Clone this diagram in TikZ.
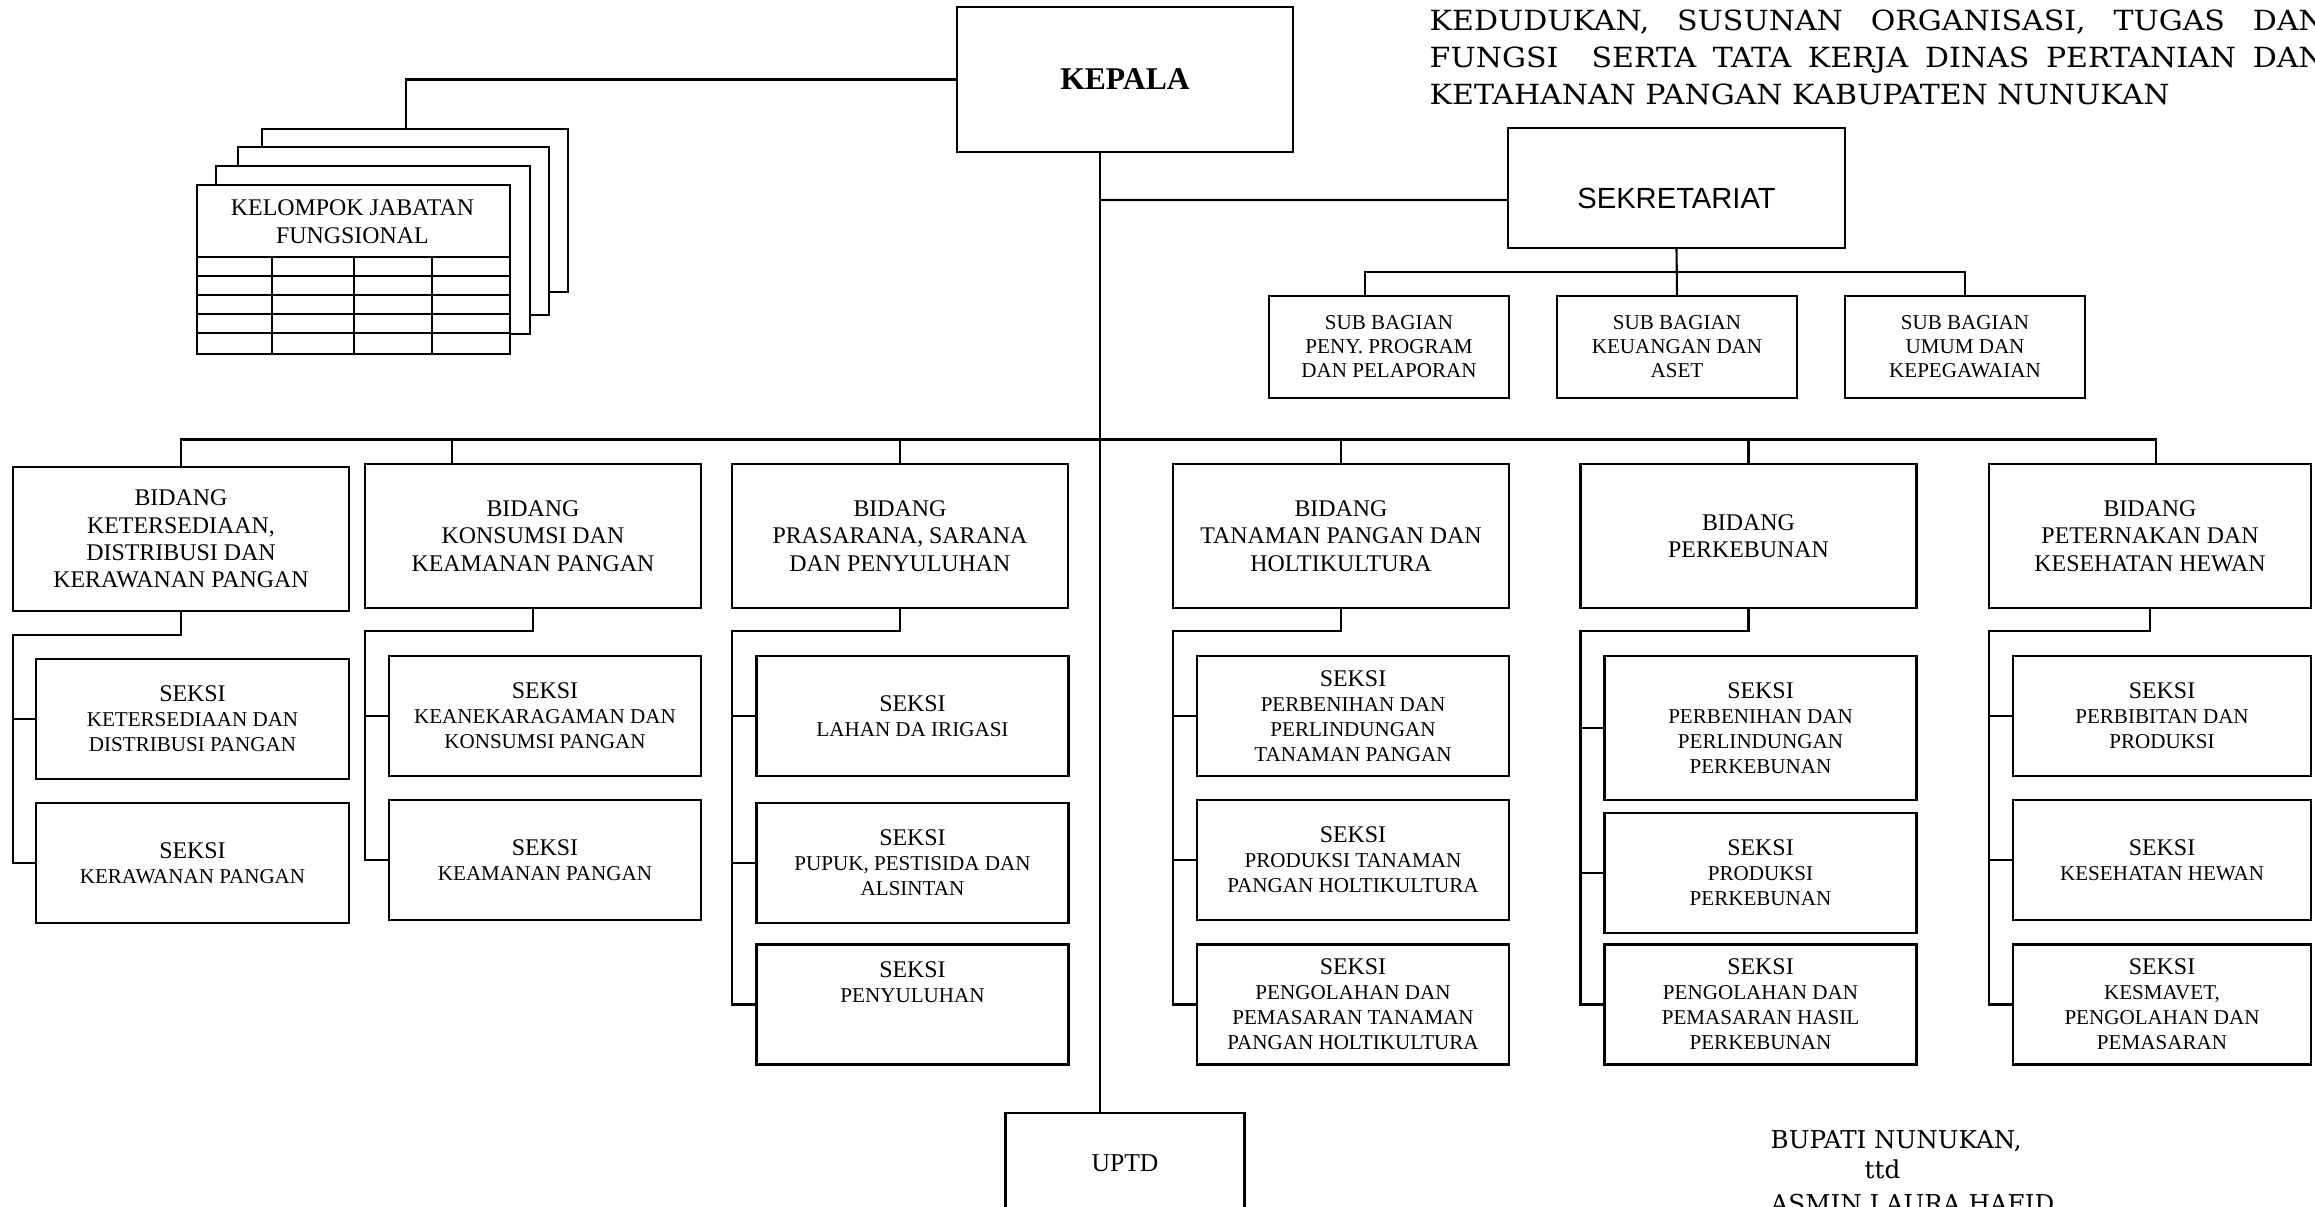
\documentclass[tikz,border=0pt]{standalone}
\usepackage{fontspec}
\setmainfont{Liberation Serif}
\newfontfamily\arialfont{Liberation Sans}
\newfontfamily\titlefont{DejaVu Serif}
\newfontfamily\widetitlefont[FakeStretch=1.08]{DejaVu Serif}
\newcommand{\dtl}{\fontsize{6}{7.1}\selectfont}

\begin{document}
\begin{tikzpicture}[
    orgbox/.style={draw, line width=0.6pt, fill=white, align=center, inner sep=1pt},
    bidang/.style={orgbox, minimum width=3.36cm, minimum height=1.44cm, font=\fontsize{6.8}{7.8}\selectfont},
    seksi/.style={orgbox, minimum width=3.12cm, minimum height=1.20cm, font=\fontsize{6.8}{7.1}\selectfont},
    subbag/.style={orgbox, minimum width=2.40cm, minimum height=1.02cm, font=\fontsize{6}{6.8}\selectfont},
    sheetbox/.style={orgbox, anchor=north west, minimum width=3.13cm, minimum height=1.69cm},
    conn/.style={line width=0.6pt},
    signtext/.style={anchor=base west, inner sep=0pt, font=\titlefont\fontsize{7}{8.5}\selectfont}
]
    \useasboundingbox (0, 0) rectangle (23.15, -12.07);
    \clip (0, 0) rectangle (23.15, -12.07);

    % title
    \node[anchor=north west, inner sep=0pt, align=left, font=\widetitlefont\fontsize{7.9}{10.5}\selectfont] at (14.29, -0.09) (judul) {\makebox[8.95cm][s]{KEDUDUKAN, SUSUNAN ORGANISASI, TUGAS DAN}\\ \makebox[8.95cm][s]{FUNGSI\ \ SERTA TATA KERJA DINAS PERTANIAN DAN}\\ KETAHANAN PANGAN KABUPATEN NUNUKAN};

    \node[orgbox, minimum width=3.36cm, minimum height=1.45cm, font=\fontsize{9}{10}\selectfont\bfseries] at (11.25, -0.795) (kepala) {KEPALA};
    \node[orgbox, minimum width=3.37cm, minimum height=1.20cm, text height=0.42cm, text depth=0pt, font=\arialfont\fontsize{8.3}{9}\selectfont] at (16.765, -1.88) (sek) {SEKRETARIAT};

    \node[subbag] at (13.89, -3.47) (SB1) {SUB BAGIAN\\PENY. PROGRAM\\DAN PELAPORAN};
    \node[subbag] at (16.77, -3.47) (SB2) {SUB BAGIAN\\KEUANGAN DAN\\ASET};
    \node[subbag] at (19.65, -3.47) (SB3) {SUB BAGIAN\\UMUM DAN\\KEPEGAWAIAN};

    % kelompok jabatan fungsional (stacked sheets)
    \node[sheetbox, minimum width=3.06cm, minimum height=1.63cm] at (2.61, -1.28) (kjf4) {};
    \node[sheetbox, minimum width=3.11cm, minimum height=1.68cm] at (2.37, -1.46) (kjf3) {};
    \node[sheetbox, minimum width=3.14cm, minimum height=1.68cm] at (2.15, -1.65) (kjf2) {};
    \node[sheetbox] at (1.96, -1.84) (kjf) {};
    \node[font=\fontsize{6.8}{7.9}\selectfont, align=center] at (3.525, -2.22) (kjflabel) {KELOMPOK JABATAN\\FUNGSIONAL};
    \foreach \y in {-2.57, -2.76, -2.95, -3.14, -3.33}
        \draw[conn] (1.96, \y) -- (5.09, \y);
    \foreach \x in {2.72, 3.54, 4.32}
        \draw[conn] (\x, -2.57) -- (\x, -3.53);

    \node[bidang] at (1.81, -5.39) (B1) {BIDANG\\KETERSEDIAAN,\\DISTRIBUSI DAN\\KERAWANAN PANGAN};
    \node[bidang] at (5.33, -5.36) (B2) {BIDANG\\KONSUMSI DAN\\KEAMANAN PANGAN};
    \node[bidang] at (9.00, -5.36) (B3) {BIDANG\\PRASARANA, SARANA\\DAN PENYULUHAN};
    \node[bidang] at (13.41, -5.36) (B4) {BIDANG\\TANAMAN PANGAN DAN\\HOLTIKULTURA};
    \node[bidang] at (17.485, -5.36) (B5) {BIDANG\\PERKEBUNAN};
    \node[bidang, minimum width=3.22cm] at (21.50, -5.36) (B6) {BIDANG\\PETERNAKAN DAN\\KESEHATAN HEWAN};

    \node[seksi, minimum width=3.13cm] at (1.925, -7.19) (B1S1) {SEKSI\\\dtl KETERSEDIAAN DAN\\\dtl DISTRIBUSI PANGAN};
    \node[seksi, minimum width=3.13cm] at (1.925, -8.63) (B1S2) {SEKSI\\\dtl KERAWANAN PANGAN};
    \node[seksi] at (5.45, -7.16) (B2S1) {SEKSI\\\dtl KEANEKARAGAMAN DAN\\\dtl KONSUMSI PANGAN};
    \node[seksi] at (5.45, -8.60) (B2S2) {SEKSI\\\dtl KEAMANAN PANGAN};
    \node[seksi] at (9.125, -7.16) (B3S1) {SEKSI\\\dtl LAHAN DA IRIGASI};
    \node[seksi] at (9.125, -8.63) (B3S2) {SEKSI\\\dtl PUPUK, PESTISIDA DAN\\\dtl ALSINTAN};
    \node[seksi] at (9.125, -10.045) (B3S3) {SEKSI\\\dtl PENYULUHAN\\[0.2cm]\mbox{}};
    \node[seksi] at (13.53, -7.16) (B4S1) {SEKSI\\\dtl PERBENIHAN DAN\\\dtl PERLINDUNGAN\\\dtl TANAMAN PANGAN};
    \node[seksi] at (13.53, -8.60) (B4S2) {SEKSI\\\dtl PRODUKSI TANAMAN\\\dtl PANGAN HOLTIKULTURA};
    \node[seksi] at (13.53, -10.045) (B4S3) {SEKSI\\\dtl PENGOLAHAN DAN\\\dtl PEMASARAN TANAMAN\\\dtl PANGAN HOLTIKULTURA};
    \node[seksi, minimum height=1.44cm] at (17.605, -7.28) (B5S1) {SEKSI\\\dtl PERBENIHAN DAN\\\dtl PERLINDUNGAN\\\dtl PERKEBUNAN};
    \node[seksi] at (17.605, -8.73) (B5S2) {SEKSI\\\dtl PRODUKSI\\\dtl PERKEBUNAN};
    \node[seksi] at (17.605, -10.045) (B5S3) {SEKSI\\\dtl PENGOLAHAN DAN\\\dtl PEMASARAN HASIL\\\dtl PERKEBUNAN};
    \node[seksi, minimum width=2.98cm] at (21.62, -7.16) (B6S1) {SEKSI\\\dtl PERBIBITAN DAN\\\dtl PRODUKSI};
    \node[seksi, minimum width=2.98cm] at (21.62, -8.60) (B6S2) {SEKSI\\\dtl KESEHATAN HEWAN};
    \node[seksi, minimum width=2.98cm] at (21.62, -10.045) (B6S3) {SEKSI\\\dtl KESMAVET,\\\dtl PENGOLAHAN DAN\\\dtl PEMASARAN};

    \node[orgbox, minimum width=2.39cm, minimum height=1.00cm, font=\fontsize{7.3}{8}\selectfont] at (11.25, -11.63) (uptd) {UPTD};

    \node[signtext] at (17.70, -11.48) (bupati) {BUPATI NUNUKAN,};
    \node[signtext] at (18.64, -11.78) (ttd) {ttd};
    \node[signtext] at (17.70, -12.12) (asmin) {ASMIN LAURA HAFID};

    % connectors
    \coordinate (trunksek) at (11.00, -2.00);
    \coordinate (subbus) at (16.77, -2.72);
    \coordinate (bus) at (11.00, -4.395);
    \coordinate (C1) at (0.13, -6.35);
    \coordinate (C2) at (3.65, -6.31);
    \coordinate (C3) at (7.32, -6.31);
    \coordinate (C4) at (11.73, -6.31);
    \coordinate (C5) at (15.805, -6.31);
    \coordinate (C6) at (19.89, -6.31);

    \draw[conn] (kepala.west) -| ([xshift=-0.09cm]kjf4.north);
    \draw[conn] ([xshift=-0.25cm]kepala.south) -- ([xshift=-0.25cm]uptd.north);
    \draw[conn] (trunksek) -- ([yshift=-0.12cm]sek.west);
    \draw[conn] (sek.south) -- (SB2.north);
    \draw[conn] ([xshift=-0.24cm]SB1.north) |- (subbus) -| (SB3.north);

    \draw[conn] (B1.north) |- (bus) -| ([xshift=0.06cm]B6.north);
    \draw[conn] ([xshift=-0.81cm]B2.north) |- (bus);
    \draw[conn] (B3.north) |- (bus);
    \draw[conn] (B4.north) |- (bus);
    \draw[conn] (B5.north) |- (bus);

    \draw[conn] (B1.south) |- (C1) |- (B1S2.west);
    \draw[conn] (C1 |- B1S1.west) -- (B1S1.west);
    \draw[conn] (B2.south) |- (C2) |- (B2S2.west);
    \draw[conn] (C2 |- B2S1.west) -- (B2S1.west);
    \draw[conn] (B3.south) |- (C3) |- (B3S3.west);
    \draw[conn] (C3 |- B3S1.west) -- (B3S1.west);
    \draw[conn] (C3 |- B3S2.west) -- (B3S2.west);
    \draw[conn] (B4.south) |- (C4) |- (B4S3.west);
    \draw[conn] (C4 |- B4S1.west) -- (B4S1.west);
    \draw[conn] (C4 |- B4S2.west) -- (B4S2.west);
    \draw[conn] (B5.south) |- (C5) |- (B5S3.west);
    \draw[conn] (C5 |- B5S1.west) -- (B5S1.west);
    \draw[conn] (C5 |- B5S2.west) -- (B5S2.west);
    \draw[conn] (B6.south) |- (C6) |- (B6S3.west);
    \draw[conn] (C6 |- B6S1.west) -- (B6S1.west);
    \draw[conn] (C6 |- B6S2.west) -- (B6S2.west);
\end{tikzpicture}
\end{document}
